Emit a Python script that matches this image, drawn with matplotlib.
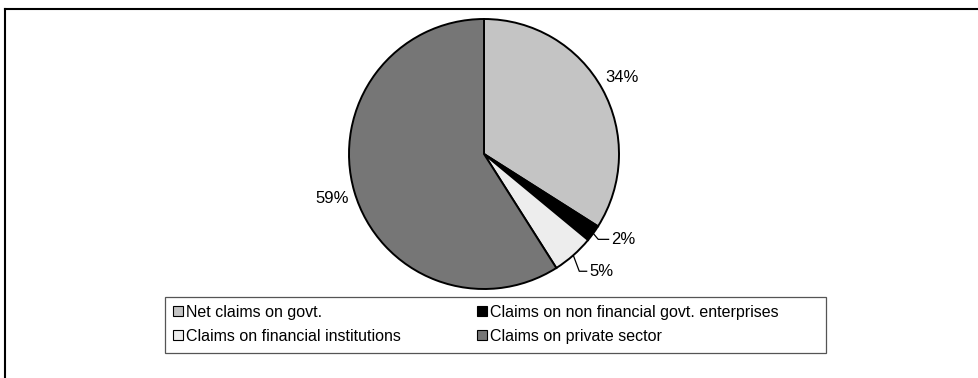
import numpy as np
import matplotlib
matplotlib.use("Agg")
import matplotlib.pyplot as plt
from matplotlib.patches import Patch, Rectangle
from matplotlib.lines import Line2D

plt.rcParams["font.family"] = ["Liberation Sans", "DejaVu Sans"]

categories = [
    "Net claims on govt.",
    "Claims on non financial govt. enterprises",
    "Claims on financial institutions",
    "Claims on private sector",
]
shares = [34, 2, 5, 59]
slice_colors = ["#c4c4c4", "#000000", "#ededed", "#767676"]

W, H = 979, 378
fig = plt.figure(figsize=(W / 100, H / 100), dpi=100)
ax = fig.add_axes([0, 0, 1, 1])

cx, cy, r = 484, H - 154, 135
wedges, _ = ax.pie(
    shares, colors=slice_colors, startangle=90, counterclock=False,
    center=(cx, cy), radius=r, frame=True,
    wedgeprops=dict(edgecolor="black", linewidth=1.4),
)
ax.set_xlim(0, W)
ax.set_ylim(0, H)
ax.set_aspect("equal")
ax.axis("off")

# percentage labels
fs = 12
for w, v in zip(wedges, shares):
    mid = np.deg2rad((w.theta1 + w.theta2) / 2)
    ex, ey = cx + r * np.cos(mid), cy + r * np.sin(mid)
    txt = f"{v}%"
    if v >= 10:
        lx, ly = cx + 158 * np.cos(mid), cy + 158 * np.sin(mid)
        ax.text(lx, ly, txt, ha="center", va="center", fontsize=fs)
    else:
        # small slices get a leader line ending in a short horizontal run
        if v == 2:
            elbow = (ex + 5, ey - 6)
            end = (elbow[0] + 11, elbow[1])
        else:
            elbow = (ex + 6, ey - 16)
            end = (elbow[0] + 8, elbow[1])
        ax.plot([ex, elbow[0], end[0]], [ey, elbow[1], end[1]],
                color="black", linewidth=0.9, solid_capstyle="butt")
        ax.text(end[0] + 2, end[1], txt, ha="left", va="center", fontsize=fs)

# chart frame (top and left edges)
fig.add_artist(Line2D([5.5 / W, 1], [1 - 8.5 / H, 1 - 8.5 / H],
                      transform=fig.transFigure, color="black", linewidth=1.5))
fig.add_artist(Line2D([5.5 / W, 5.5 / W], [0, 1 - 8.5 / H],
                      transform=fig.transFigure, color="black", linewidth=1.5))

# legend box
x0, y0, x1, y1 = 165, 297, 826, 353
fig.add_artist(Rectangle((x0 / W, 1 - y1 / H), (x1 - x0) / W, (y1 - y0) / H,
                         transform=fig.transFigure, facecolor="white",
                         edgecolor="#555555", linewidth=0.9, zorder=2))

handles = [Patch(facecolor=c, edgecolor="black", linewidth=0.8) for c in slice_colors]
order = [0, 2, 1, 3]
leg = fig.legend(
    [handles[i] for i in order], [categories[i] for i in order],
    ncol=2, loc="upper left",
    bbox_to_anchor=(x0 / W, 1 - y0 / H),
    borderaxespad=0, frameon=False, fontsize=11.5,
    handlelength=0.6, handleheight=0.6, handletextpad=0.2,
    borderpad=0.5, labelspacing=0.55, columnspacing=4.8,
)
leg.set_zorder(3)

fig.savefig("out.png", dpi=100)
